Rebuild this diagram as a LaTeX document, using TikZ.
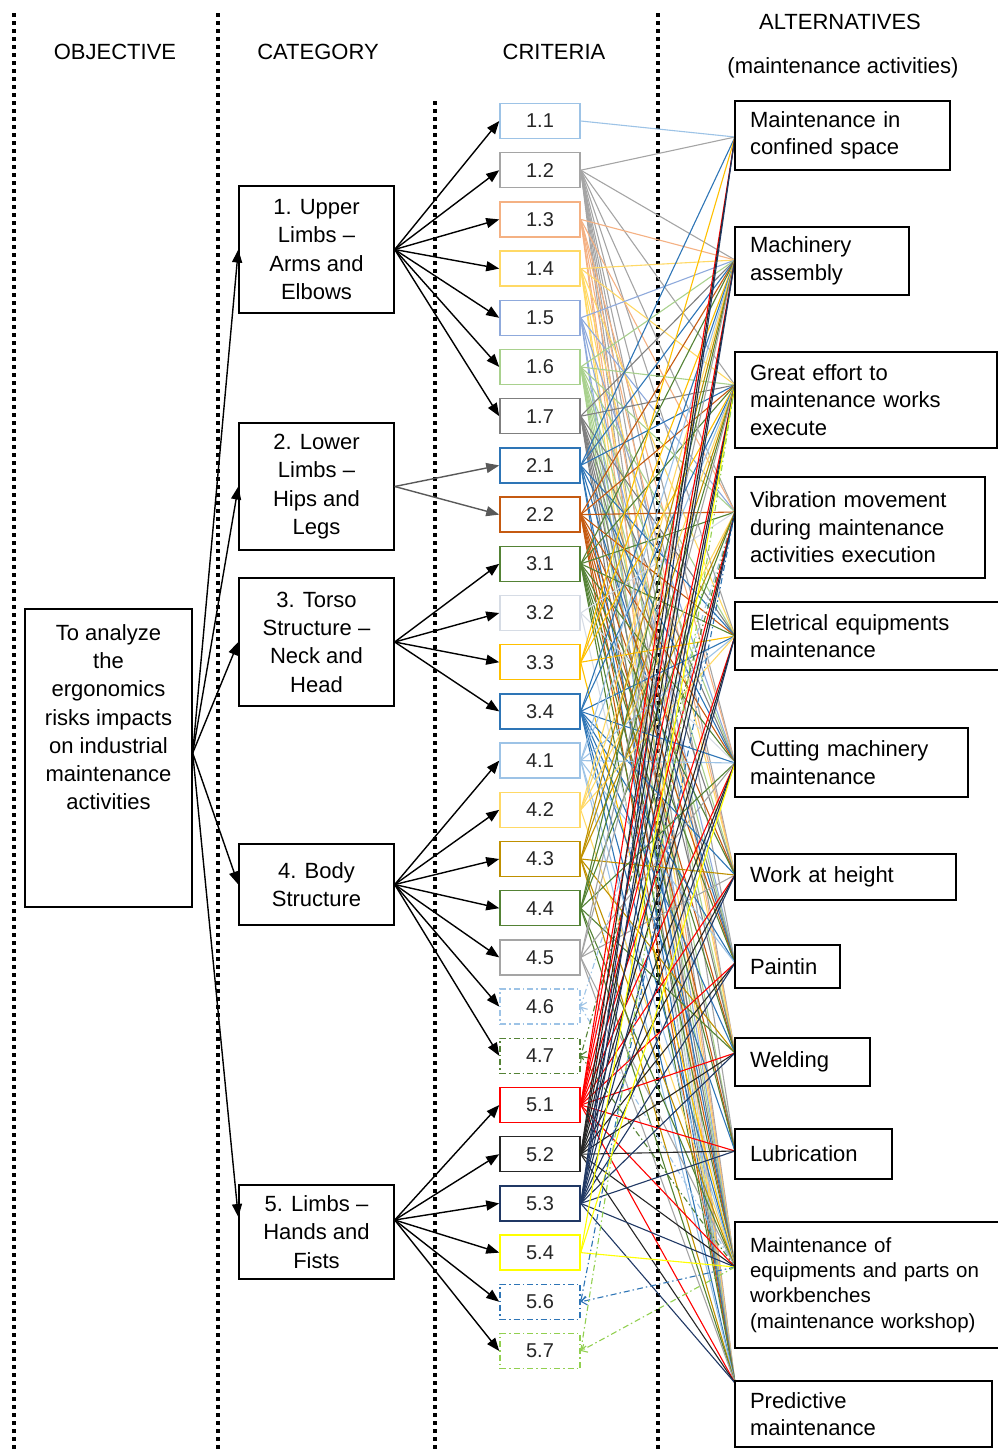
\documentclass[tikz,border=0pt]{standalone}
\usepackage{fontspec}
\setmainfont{Liberation Sans}
\usetikzlibrary{arrows.meta,calc}
\definecolor{clb}{HTML}{9DC3E6}
\definecolor{cgr}{HTML}{A5A5A5}
\definecolor{clo}{HTML}{F4B183}
\definecolor{cly}{HTML}{FFD966}
\definecolor{clbb}{HTML}{8FAADC}
\definecolor{clg}{HTML}{A9D18E}
\definecolor{cdg}{HTML}{7F7F7F}
\definecolor{cbl}{HTML}{2E75B6}
\definecolor{cor}{HTML}{C55A11}
\definecolor{cgn}{HTML}{548235}
\definecolor{cvl}{HTML}{D6DCE5}
\definecolor{cgd}{HTML}{FFC000}
\definecolor{cdgd}{HTML}{BF9000}
\definecolor{crd}{HTML}{FF0000}
\definecolor{cbk}{HTML}{262626}
\definecolor{cnv}{HTML}{203864}
\definecolor{cyl}{HTML}{FFFF00}
\definecolor{clgn}{HTML}{92D050}
\definecolor{carr}{HTML}{595959}
\newcommand{\critlinks}[3]{\foreach \a in {#3} {\draw[lk,#2] (#1.east) -- (p\a);}}
\newcommand{\critlinksd}[3]{\foreach \a in {#3} {\draw[lk,#2,dash pattern=on 6pt off 3pt on 1.5pt off 3pt,-{Straight Barb[length=5pt,width=9pt]}] (p\a) -- (#1.east);}}
\begin{document}
\begin{tikzpicture}[x=1pt,y=-1pt,
  hdr/.style={font=\fontsize{22}{26}\selectfont,inner sep=0pt},
  box/.style={draw=black,line width=1.4pt,fill=white,inner sep=0pt,align=center,font=\fontsize{22}{28.3}\selectfont},
  altbox/.style={draw=black,line width=1.4pt,fill=white,inner xsep=15pt,inner ysep=0pt,align=left,font=\fontsize{22}{27.5}\selectfont},
  crit/.style={draw=#1,line width=1.5pt,fill=white,minimum width=80pt,minimum height=35pt,inner sep=0pt,text=cbk,font=\fontsize{20}{24}\selectfont},
  critd/.style={crit=#1,dash pattern=on 6pt off 3pt on 1.5pt off 3pt},
  arr/.style={line width=1.4pt,-{Triangle[length=13pt,width=10pt]}},
  sep/.style={line width=4pt,dash pattern=on 4pt off 4pt,black},
  lk/.style={line width=1.1pt}
]
\path[use as bounding box] (0,0) rectangle (998,1452);

% separators
\draw[sep] (14,13) -- (14,1452);
\draw[sep] (218,13) -- (218,1452);
\draw[sep] (435,101) -- (435,1452);
\draw[sep] (658,13) -- (658,1452);

% headers
\node[hdr] (hobj) at (115,52) {OBJECTIVE};
\node[hdr] (hcat) at (318,52) {CATEGORY};
\node[hdr] (hcri) at (554,52) {CRITERIA};
\node[hdr] (halt) at (840,22) {ALTERNATIVES};
\node[hdr] (halt2) at (843,68) {(maintenance activities)};

% anchor points on alternatives
\coordinate (p1) at (735,137);
\coordinate (p2) at (735,260);
\coordinate (p3) at (735,385);
\coordinate (p4) at (735,512);
\coordinate (p5) at (735,636);
\coordinate (p6) at (735,763);
\coordinate (p7) at (735,875);
\coordinate (p8) at (735,963);
\coordinate (p9) at (735,1053);
\coordinate (p10) at (735,1151);
\coordinate (p11) at (735,1267);
\coordinate (p12) at (735,1383);

% criteria (positions)
\node[crit=clb] (c11) at (540,121) {1.1};
\node[crit=cgr] (c12) at (540,170.2) {1.2};
\node[crit=clo] (c13) at (540,219.4) {1.3};
\node[crit=cly] (c14) at (540,268.6) {1.4};
\node[crit=clbb] (c15) at (540,317.8) {1.5};
\node[crit=clg] (c16) at (540,367) {1.6};
\node[crit=cdg] (c17) at (540,416.2) {1.7};
\node[crit=cbl] (c21) at (540,465.4) {2.1};
\node[crit=cor] (c22) at (540,514.6) {2.2};
\node[crit=cgn] (c31) at (540,563.8) {3.1};
\node[crit=cvl] (c32) at (540,613) {3.2};
\node[crit=cgd] (c33) at (540,662.2) {3.3};
\node[crit=cbl] (c34) at (540,711.4) {3.4};
\node[crit=clb] (c41) at (540,760.6) {4.1};
\node[crit=cly] (c42) at (540,809.8) {4.2};
\node[crit=cdgd] (c43) at (540,859) {4.3};
\node[crit=cgn] (c44) at (540,908.2) {4.4};
\node[crit=cgr] (c45) at (540,957.4) {4.5};
\node[critd=clb] (c46) at (540,1006.6) {4.6};
\node[critd=cgn] (c47) at (540,1055.8) {4.7};
\node[crit=crd] (c51) at (540,1105) {5.1};
\node[crit=cbk] (c52) at (540,1154.2) {5.2};
\node[crit=cnv] (c53) at (540,1203.4) {5.3};
\node[crit=cyl] (c54) at (540,1252.6) {5.4};
\node[critd=cbl] (c56) at (540,1301.8) {5.6};
\node[critd=clgn] (c57) at (540,1351) {5.7};

% criteria -> alternatives links
\critlinks{c11}{clb}{1}
\critlinks{c12}{cgr}{1,2,3,4,5,6,7,8,9,10,11,12}
\critlinks{c13}{clo}{2,4,6,7,9,11,12}
\critlinks{c14}{cly}{2,3,5,7,9,11,12}
\critlinks{c15}{clbb}{2,4,6,8,11,12}
\critlinks{c16}{clg}{2,3,4,5,6,7,8,9,10,11,12}
\critlinks{c17}{cdg}{2,3,5,6,7,8,9,10,11,12}
\critlinks{c21}{cbl}{1,2,3,5,6,8,11,12}
\critlinks{c22}{cor}{2,3,4,5,6,7,8,9,10,11,12}
\critlinks{c31}{cgn}{2,3,4,5,6,7,8,9,10,11,12}
\critlinks{c32}{cvl}{4,6,11}
\critlinks{c33}{cgd}{1,2,3,5,11}
\critlinks{c34}{cbl}{2,3,5,6,7,8,9,10,11,12}
\critlinks{c41}{clb}{2,3,5,6,8,11,12}
\critlinks{c42}{cly}{2,3,4,5,11}
\critlinks{c43}{cdgd}{2,3,4,7,9,11,12}
\critlinks{c44}{cgn}{2,3,4,6,9,11,12}
\critlinks{c45}{cgr}{2,3,6,7,11,12}
\critlinksd{c46}{clb}{4,11}
\critlinksd{c47}{cgn}{4,11}
\critlinks{c51}{crd}{1,2,3,4,5,6,7,8,9,10,11,12}
\critlinks{c52}{cbk}{1,2,3,4,5,6,7,8,9,10,11,12}
\critlinks{c53}{cnv}{1,2,3,4,5,6,7,8,9,10,11,12}
\critlinks{c54}{cyl}{3,6,11}
\critlinksd{c56}{cbl}{4,11}
\critlinksd{c57}{clgn}{3,11}

% redraw criteria boxes on top
\node[crit=clb] at (c11) {1.1};
\node[crit=cgr] at (c12) {1.2};
\node[crit=clo] at (c13) {1.3};
\node[crit=cly] at (c14) {1.4};
\node[crit=clbb] at (c15) {1.5};
\node[crit=clg] at (c16) {1.6};
\node[crit=cdg] at (c17) {1.7};
\node[crit=cbl] at (c21) {2.1};
\node[crit=cor] at (c22) {2.2};
\node[crit=cgn] at (c31) {3.1};
\node[crit=cvl] at (c32) {3.2};
\node[crit=cgd] at (c33) {3.3};
\node[crit=cbl] at (c34) {3.4};
\node[crit=clb] at (c41) {4.1};
\node[crit=cly] at (c42) {4.2};
\node[crit=cdgd] at (c43) {4.3};
\node[crit=cgn] at (c44) {4.4};
\node[crit=cgr] at (c45) {4.5};
\node[critd=clb] at (c46) {4.6};
\node[critd=cgn] at (c47) {4.7};
\node[crit=crd] at (c51) {5.1};
\node[crit=cbk] at (c52) {5.2};
\node[crit=cnv] at (c53) {5.3};
\node[crit=cyl] at (c54) {5.4};
\node[critd=cbl] at (c56) {5.6};
\node[critd=clgn] at (c57) {5.7};

% alternatives
\node[altbox,minimum width=215pt,minimum height=69pt,text width=185pt] (a1) at (842.5,135.5) {Maintenance in\\confined space};
\node[altbox,minimum width=174pt,minimum height=68pt,text width=144pt] (a2) at (822,261) {Machinery\\assembly};
\node[altbox,minimum width=262pt,minimum height=96pt,text width=232pt] (a3) at (866,400) {Great effort to\\maintenance works\\execute};
\node[altbox,minimum width=250pt,minimum height=101pt,text width=220pt] (a4) at (860,527.5) {Vibration movement\\during maintenance\\activities execution};
\node[altbox,minimum width=270pt,minimum height=68pt,text width=240pt] (a5) at (870,636) {Eletrical equipments\\maintenance};
\node[altbox,minimum width=233pt,minimum height=69pt,text width=203pt] (a6) at (851.5,762.5) {Cutting machinery\\maintenance};
\node[altbox,minimum width=221pt,minimum height=46pt,text width=191pt] (a7) at (845.5,877) {Work at height};
\node[altbox,minimum width=105pt,minimum height=43pt,text width=75pt] (a8) at (787.5,966.5) {Paintin};
\node[altbox,minimum width=135pt,minimum height=48pt,text width=105pt] (a9) at (802.5,1062) {Welding};
\node[altbox,minimum width=157pt,minimum height=50pt,text width=127pt] (a10) at (813.5,1154) {Lubrication};
\node[altbox,minimum width=270pt,minimum height=126pt,text width=240pt,font=\fontsize{20.5}{25.3}\selectfont] (a11) at (870,1285) {Maintenance of\\equipments and parts on\\workbenches\\(maintenance workshop)};
\node[altbox,minimum width=257pt,minimum height=66pt,text width=227pt] (a12) at (863.5,1414) {Predictive\\maintenance};

% objective
\node[box,minimum width=167pt,minimum height=298pt] (obj) at (108.5,758) {};
\node[font=\fontsize{22}{28.3}\selectfont,align=center,anchor=north,inner sep=0pt] (objtxt) at (108.5,624) {To analyze\\the\\ergonomics\\risks impacts\\on industrial\\maintenance\\activities};

% categories
\node[box,minimum width=155pt,minimum height=127pt] (k1) at (316.5,249.5) {1. Upper\\Limbs –\\Arms and\\Elbows};
\node[box,minimum width=155pt,minimum height=127pt] (k2) at (316.5,486.5) {2. Lower\\Limbs –\\Hips and\\Legs};
\node[box,minimum width=155pt,minimum height=128pt] (k3) at (316.5,642) {3. Torso\\Structure –\\Neck and\\Head};
\node[box,minimum width=155pt,minimum height=81pt] (k4) at (316.5,884.5) {4. Body\\Structure};
\node[box,minimum width=155pt,minimum height=94pt] (k5) at (316.5,1232) {5. Limbs –\\Hands and\\Fists};

% objective -> categories
\coordinate (os) at ($(obj.east)+(0,-5)$);
\draw[arr] (os) -- (k1.west);
\draw[arr] (os) -- (k2.west);
\draw[arr] (os) -- (k3.west);
\draw[arr] (os) -- (k4.west);
\draw[arr] (os) -- ($(k5.west)+(0,-15)$);

% categories -> criteria
\foreach \c in {c11,c12,c13,c14,c15,c16,c17} {\draw[arr] (k1.east) -- (\c.west);}
\foreach \c in {c21,c22} {\draw[arr,carr] (k2.east) -- (\c.west);}
\foreach \c in {c31,c32,c33,c34} {\draw[arr] (k3.east) -- (\c.west);}
\foreach \c in {c41,c42,c43,c44,c45,c46,c47} {\draw[arr] (k4.east) -- (\c.west);}
\coordinate (k5s) at ($(k5.east)+(0,-12)$);
\foreach \c in {c51,c52,c53,c54,c56,c57} {\draw[arr] (k5s) -- (\c.west);}
\end{tikzpicture}
\end{document}
